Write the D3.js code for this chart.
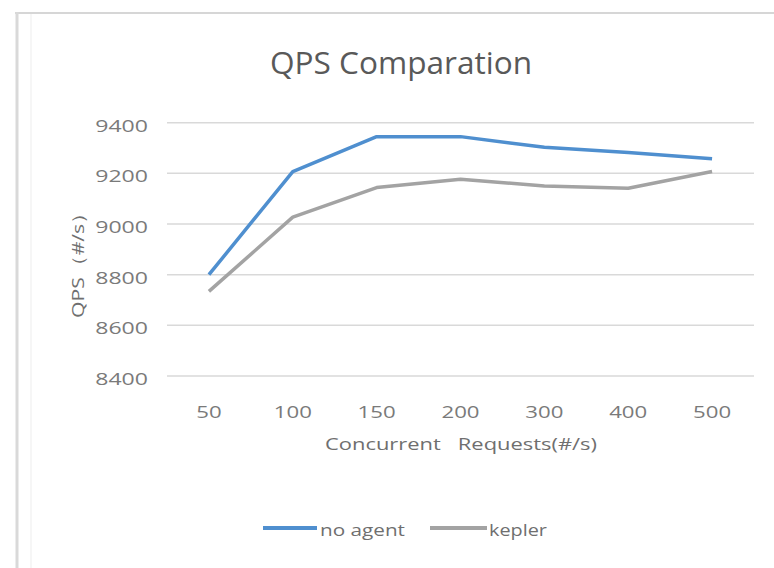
<!DOCTYPE html>
<html>
<head>
<meta charset="utf-8">
<script src="https://cdn.jsdelivr.net/npm/d3@7"></script>
<style>
  html, body { margin: 0; padding: 0; background: #fff; }
  svg { display: block; }
  text { font-family: "Open Sans", "Noto Sans", sans-serif; white-space: pre; }
</style>
</head>
<body>
<svg id="chart" width="774" height="568"></svg>
<script>
const categories = ["50", "100", "150", "200", "300", "400", "500"];
const noAgent = [8800, 9207, 9345, 9345, 9303, 9282, 9258];
const kepler  = [8734, 9027, 9144, 9177, 9150, 9141, 9207];
const yTicks = [8400, 8600, 8800, 9000, 9200, 9400];
const seriesNames = ["no agent", "kepler"];
const seriesColors = ["#4f8fcf", "#a3a3a3"];
const title = "QPS Comparation";
const xTitle = "Concurrent   Requests(#/s)";
const yTitle = "QPS（#/s）";

const svg = d3.select("#chart");
const W = 774, H = 568;
const plot = { left: 167, right: 754, top: 122.7, bottom: 376 };

// outer frame
svg.append("line").attr("x1", 15).attr("x2", W).attr("y1", 13).attr("y2", 13)
  .attr("stroke", "#d6d6d6").attr("stroke-width", 2);
svg.append("line").attr("x1", 17).attr("x2", 17).attr("y1", 12).attr("y2", H)
  .attr("stroke", "#d9d9d9").attr("stroke-width", 3);
svg.append("line").attr("x1", 31).attr("x2", 31).attr("y1", 14).attr("y2", H)
  .attr("stroke", "#f6f6f6").attr("stroke-width", 2);

const x = d3.scalePoint().domain(categories).range([plot.left, plot.right]).padding(0.5);
const y = d3.scaleLinear().domain([8400, 9400]).range([plot.bottom, plot.top]);

// gridlines
svg.append("g").selectAll("line").data(yTicks).join("line")
  .attr("x1", plot.left).attr("x2", plot.right)
  .attr("y1", d => y(d)).attr("y2", d => y(d))
  .attr("stroke", "#d9d9d9").attr("stroke-width", 1.5);

// y tick labels
svg.append("g").selectAll("text").data(yTicks).join("text")
  .attr("x", 148).attr("y", d => y(d) + 9)
  .attr("text-anchor", "end")
  .attr("font-size", 16.5).attr("fill", "#7a7a7a")
  .attr("textLength", d => String(d).length * 13.2)
  .attr("lengthAdjust", "spacingAndGlyphs")
  .text(d => d);

// x tick labels
svg.append("g").selectAll("text").data(categories).join("text")
  .attr("x", d => x(d)).attr("y", 418)
  .attr("text-anchor", "middle")
  .attr("font-size", 16.5).attr("fill", "#7a7a7a")
  .attr("textLength", d => d.length * 12.7)
  .attr("lengthAdjust", "spacingAndGlyphs")
  .text(d => d);

// lines
const line = d3.line().x((d, i) => x(categories[i])).y(d => y(d));
[noAgent, kepler].forEach((s, k) => {
  svg.append("path").datum(s)
    .attr("d", line)
    .attr("fill", "none")
    .attr("stroke", seriesColors[k])
    .attr("stroke-width", 3.5)
    .attr("stroke-linejoin", "round");
});

// title
svg.append("text").attr("x", 401).attr("y", 74)
  .attr("text-anchor", "middle").attr("font-size", 31).attr("fill", "#595959")
  .attr("textLength", 262).attr("lengthAdjust", "spacingAndGlyphs")
  .text(title);

// x axis title
svg.append("text").attr("x", 461).attr("y", 450)
  .attr("text-anchor", "middle").attr("font-size", 16.5).attr("fill", "#6f6f6f")
  .attr("textLength", 272).attr("lengthAdjust", "spacingAndGlyphs")
  .text(xTitle);

// y axis title
svg.append("text")
  .attr("transform", "translate(84,260) rotate(-90)")
  .attr("text-anchor", "middle").attr("font-size", 16.5).attr("fill", "#6f6f6f")
  .attr("textLength", 116).attr("lengthAdjust", "spacingAndGlyphs")
  .text(yTitle);

// legend
const legendItems = [
  { x1: 263, x2: 317, tx: 320, tl: 85 },
  { x1: 430, x2: 487, tx: 489, tl: 58 }
];
legendItems.forEach((it, k) => {
  svg.append("line").attr("x1", it.x1).attr("x2", it.x2).attr("y1", 528).attr("y2", 528)
    .attr("stroke", seriesColors[k]).attr("stroke-width", 4);
  svg.append("text").attr("x", it.tx).attr("y", 536)
    .attr("font-size", 15.5).attr("fill", "#6f6f6f")
    .attr("textLength", it.tl).attr("lengthAdjust", "spacingAndGlyphs")
    .text(seriesNames[k]);
});
</script>
</body>
</html>
